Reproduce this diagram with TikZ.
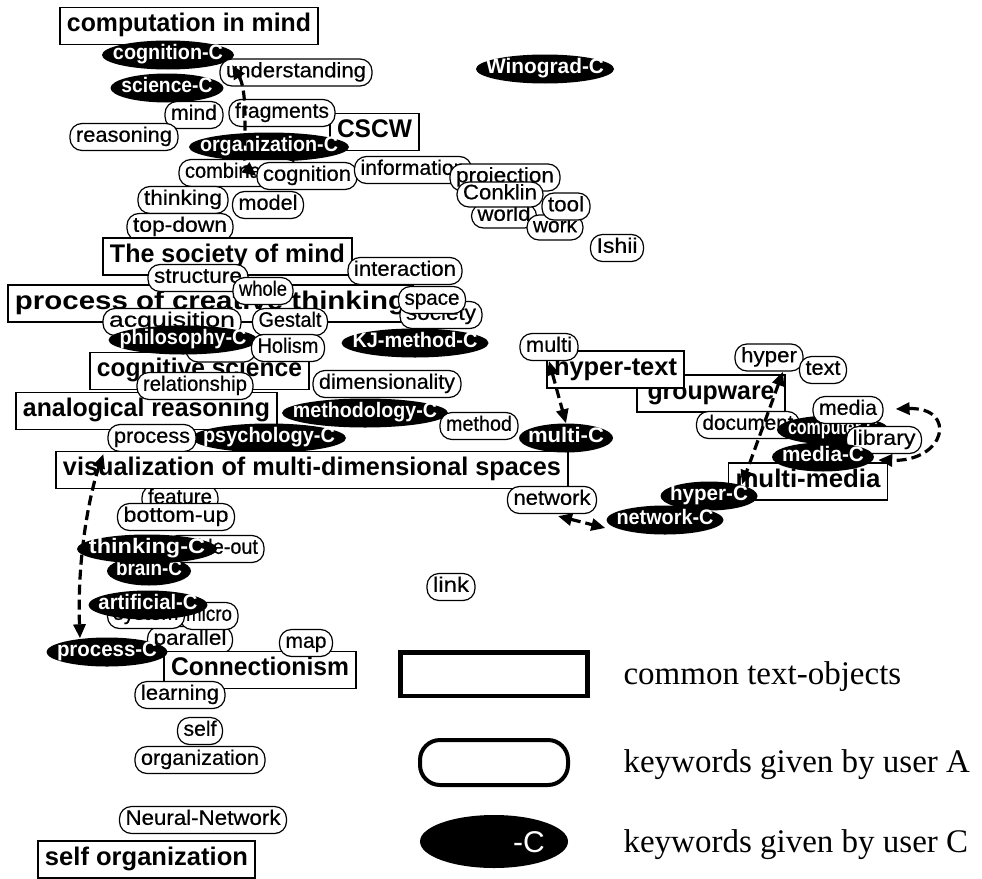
\documentclass[tikz,border=0pt]{standalone}
\usepackage{fontspec}
\setmainfont{Liberation Serif}
\newfontfamily\sansf{Liberation Sans}
\newfontfamily\kwsans[FakeBold=0.5]{Liberation Sans}
\usetikzlibrary{shapes.geometric,arrows.meta,calc}
\newcommand\kwfont{\kwsans\fontsize{21}{24}\selectfont}
\newcommand\ckfont{\sansf\bfseries\fontsize{21}{24}\selectfont}
\newcommand\ttfont{\sansf\bfseries\fontsize{25.5}{29}\selectfont}
\newcommand\fw[2]{\resizebox{#1pt}{\height}{\strut #2}}
\begin{document}
\begin{tikzpicture}[x=1pt,y=-1pt,
  ttl/.style={draw, line width=1.3pt, fill=white, inner xsep=7pt, inner ysep=0pt, minimum height=37pt, font=\ttfont},
  kw/.style={draw, line width=1.2pt, fill=white, rounded corners=12pt, inner xsep=6pt, inner ysep=0pt, minimum height=27pt, font=\kwfont},
  ck/.style={ellipse, fill=black, text=white, inner xsep=-30pt, inner ysep=-6pt, minimum height=29pt, minimum width=#1, font=\ckfont},
  lnk/.style={line width=3.2pt, dash pattern=on 10pt off 5pt, {Triangle[length=14pt,width=12pt]}-{Triangle[length=14pt,width=12pt]}}]
\useasboundingbox (0,0) rectangle (982,878);
\fill[white] (0,0) rectangle (982,878);
% ---- top cluster
\node[ttl] (computation) at (189,26) {\fw{244}{computation in mind}};
\node[ttl] (cscw) at (374.5,132) {\fw{75}{CSCW}};
\node[ck=132pt] (cognitionC) at (168,55) {\fw{110}{cognition-C}};
\node[ck=113pt] (scienceC) at (167,88) {\fw{91}{science-C}};
\node[kw] (understanding) at (296,72.5) {\fw{140}{understanding}};
\node[kw] (mind) at (194,115) {\fw{46}{mind}};
\node[kw] (fragments) at (282,113) {\fw{94}{fragments}};
\node[kw] (reasoning) at (124,137) {\fw{96}{reasoning}};
\node[ck=160pt] (organizationC) at (269,147) {\fw{138}{organization-C}};
\node[kw] (combination) at (239,173) {\fw{108}{combination}};
\node[kw] (cognition) at (307,176) {\fw{88}{cognition}};
\node[kw] (information) at (413,170) {\fw{105}{information}};
\node[kw] (projection) at (505,177.5) {\fw{98}{projection}};
\node[kw, minimum height=23pt] (world) at (504,216) {\fw{53}{world}};
\node[kw, minimum height=25pt] (conklin) at (500,194.5) {\fw{74}{Conklin}};
\node[kw, minimum height=25pt] (work) at (555,227.5) {\fw{44}{work}};
\node[kw] (tool) at (566,206.5) {\fw{36}{tool}};
\node[kw] (ishii) at (617,248) {\fw{41}{Ishii}};
\node[ck=138pt] (winogradC) at (545,69) {\fw{118}{Winograd-C}};
\node[kw] (thinking) at (183,200) {\fw{78}{thinking}};
\node[kw] (model) at (268,205) {\fw{59}{model}};
\node[kw] (topdown) at (180,227) {\fw{94}{top-down}};
% ---- middle-left cluster
\node[ttl] (society) at (227.5,256.5) {\fw{235}{The society of mind}};
\node[ttl] (creative) at (210.5,303.5) {\fw{391}{process of creative thinking}};
\node[kw] (structure) at (198,278) {\fw{88}{structure}};
\node[kw] (interaction) at (405,271) {\fw{102}{interaction}};
\node[kw] (whole) at (263,291) {\fw{48}{whole}};
\node[kw] (societykw) at (441,315) {\fw{70}{society}};
\node[kw] (space) at (432,300) {\fw{55}{space}};
\node[ttl] (cogsci) at (199.5,371) {\fw{205}{cognitive science}};
\node[kw] (acquisition) at (172,322) {\fw{126}{acquisition}};
\node[kw, minimum width=70pt, minimum height=22pt] (blank) at (221,351) {};
\node[ck=149pt] (philosophyC) at (183,340) {\fw{127}{philosophy-C}};
\node[kw] (gestalt) at (290,322) {\fw{63}{Gestalt}};
\node[kw] (holism) at (288,348) {\fw{61}{Holism}};
\node[ck=147pt] (kjmethodC) at (415,343) {\fw{125}{KJ-method-C}};
\node[ttl] (analog) at (146.5,411) {\fw{247}{analogical reasoning}};
\node[kw] (relationship) at (195,386) {\fw{104}{relationship}};
\node[kw] (dimensionality) at (387,384) {\fw{136}{dimensionality}};
\node[ck=166pt] (methodologyC) at (365,413) {\fw{144}{methodology-C}};
\node[ck=154pt] (psychologyC) at (269,438) {\fw{132}{psychology-C}};
\node[kw] (method) at (479,426) {\fw{66}{method}};
\node[kw] (process) at (152,438) {\fw{76}{process}};
\node[kw] (feature) at (180,499) {\fw{64}{feature}};
\node[ttl] (visual) at (312,470) {\fw{498}{visualization of multi-dimensional spaces}};
\node[ck=94pt] (multiC) at (566,438) {\fw{76}{multi-C}};
\node[kw] (network) at (552,500) {\fw{77}{network}};
% ---- right cluster
\node[ttl, minimum width=148pt] (groupware) at (711,393.5) {\fw{127}{groupware}};
\node[ttl] (hypertext) at (615.5,369.5) {\fw{123}{hyper-text}};
\node[kw] (multi) at (549,347) {\fw{46}{multi}};
\node[kw] (hyper) at (769,357.5) {\fw{56}{hyper}};
\node[kw] (textkw) at (823,370) {\fw{35}{text}};
\node[kw] (document) at (748,425) {\fw{91}{document}};
\node[ck=112pt] (computerC) at (833,430) {\fw{90}{computer-C}};
\node[kw] (library) at (884,440) {\fw{63}{library}};
\node[kw] (media) at (848,410) {\fw{58}{media}};
\node[ttl] (multimedia) at (808,481.5) {\fw{145}{multi-media}};
\node[ck=102pt] (mediaC) at (823,457) {\fw{82}{media-C}};
\node[ck=97pt] (hyperC) at (709,496) {\fw{78}{hyper-C}};
\node[ck=117pt] (networkC) at (665,520) {\fw{97}{network-C}};
% ---- lower-left cluster
\node[kw] (bottomup) at (176,517) {\fw{105}{bottom-up}};
\node[kw] (insideout) at (215,549) {\fw{86}{inside-out}};
\node[ck=84pt] (brainC) at (149,571) {\fw{66}{brain-C}};
\node[ck=140pt] (thinkingC) at (147,549) {\fw{116}{thinking-C}};
\node[kw] (parallel) at (190,640) {\fw{73}{parallel}};
\node[kw] (micro) at (209,616) {\fw{46}{micro}};
\node[kw] (system) at (146,615) {\fw{65}{system}};
\node[ck=119pt] (artificialC) at (148,605) {\fw{99}{artificial-C}};
\node[ttl] (connection) at (260,670) {\fw{178}{Connectionism}};
\node[ck=121pt] (processC) at (107,652) {\fw{100}{process-C}};
\node[kw] (map) at (306,643) {\fw{41}{map}};
\node[kw] (learning) at (180,695) {\fw{78}{learning}};
\node[kw] (self) at (200,731) {\fw{33}{self}};
\node[kw] (organization) at (200,760) {\fw{118}{organization}};
\node[kw] (neural) at (203,820) {\fw{155}{Neural-Network}};
\node[ttl] (selforg) at (146.5,859.5) {\fw{203}{self organization}};
\node[kw] (link) at (451,587) {\fw{36}{link}};
% ---- links
\draw[lnk] ($(cognitionC.east)+(-2,10)$) .. controls +(18,30) and +(-15,-12) .. (cognition.west);
\draw[lnk] (multi.south) -- (multiC.north);
\draw[lnk] ($(hyper.south)+(14,0)$) -- ($(hyperC.north)+(33,3)$);
\draw[lnk] ($(media.east)+(12,-1)$) .. controls +(62,-2) and +(68,2) .. ($(mediaC.east)+(4,3)$);
\draw[lnk] ($(network.south)+(6,2)$) -- ($(networkC.west)+(-1,8)$);
\draw[lnk] ($(process.south west)+(-4,2)$) .. controls +(-14,40) and +(-3,-80) .. ($(processC.north)+(-27,1)$);
% ---- legend
\node[draw, line width=4.5pt, inner sep=0pt, minimum width=187pt, minimum height=43.5pt] (legT) at (494,674) {};
\node[anchor=west, font=\fontsize{33}{37}\selectfont] (legTt) at (620,677) {common text-objects};
\node[draw, line width=4pt, rounded corners=20pt, inner sep=0pt, minimum width=148pt, minimum height=45pt] (legA) at (494,762.5) {};
\node[anchor=west, font=\fontsize{33}{37}\selectfont] (legAt) at (620,765) {keywords given by user A};
\node[ellipse, fill=black, inner sep=0pt, minimum width=148pt, minimum height=53pt] (legC) at (494,841.5) {};
\node[text=white, font=\sansf\fontsize{30}{34}\selectfont] (legCl) at (529,842) {-C};
\node[anchor=west, font=\fontsize{33}{37}\selectfont] (legCt) at (620,845) {keywords given by user C};
\end{tikzpicture}
\end{document}
